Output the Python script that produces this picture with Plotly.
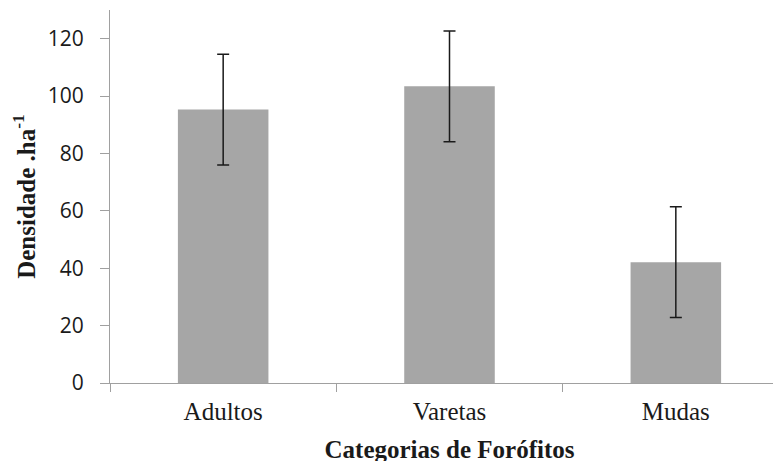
import plotly.graph_objects as go

categories = ["Adultos", "Varetas", "Mudas"]
values = [95.3, 103.4, 42.1]
errors = [19.3, 19.3, 19.3]
y_ticks = [0, 20, 40, 60, 80, 100, 120]

fig = go.Figure()
fig.add_trace(go.Bar(
    x=categories, y=values, width=0.40,
    marker=dict(color="#a6a6a6", line=dict(width=0)),
    error_y=dict(type="data", array=errors, visible=True,
                 color="#1a1a1a", thickness=1.5, width=6),
))

fig.update_layout(
    width=781, height=461,
    margin=dict(l=102, r=0, t=2, b=86),
    plot_bgcolor="white", paper_bgcolor="white",
    showlegend=False,
)
fig.update_xaxes(
    range=[-0.5, 2.5],
    showline=True, linecolor="#a0a0a0", linewidth=1,
    ticks="outside", tickson="boundaries", ticklen=8, tickcolor="#a0a0a0",
    ticklabelstandoff=6,
    tickfont=dict(family="Liberation Serif", size=25, color="#1a1a1a"),
    title=dict(text="<b>Categorias de Forófitos</b>",
               font=dict(family="Liberation Serif", size=25, color="#1a1a1a"),
               standoff=16),
    showgrid=False, zeroline=False,
)
fig.update_yaxes(
    range=[0, 130], tickvals=y_ticks,
    showline=True, linecolor="#a0a0a0", linewidth=1,
    ticks="outside", ticklen=9, tickcolor="#a0a0a0",
    ticklabelstandoff=12,
    tickfont=dict(family="Open Sans", size=21, color="#1a1a1a"),
    title=dict(text="<b>Densidade .ha<sup>-1</sup></b>",
               font=dict(family="Liberation Serif", size=25, color="#1a1a1a"),
               standoff=12),
    showgrid=False, zeroline=False,
)

fig.write_html("out.html")
